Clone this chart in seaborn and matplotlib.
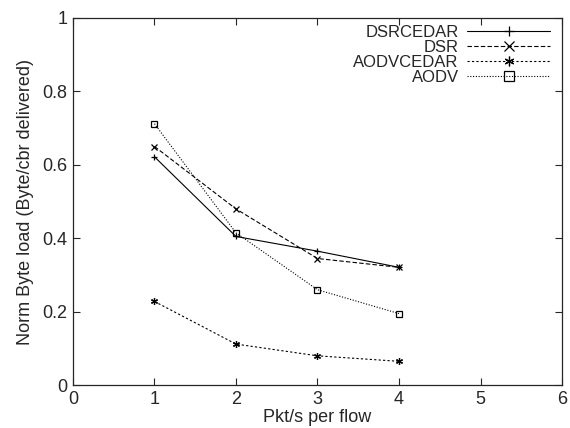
import numpy as np
import pandas as pd
import seaborn as sns
import matplotlib.pyplot as plt

sns.set_style("ticks")
plt.rcParams['font.family'] = ['Liberation Sans', 'DejaVu Sans']
plt.rcParams['xtick.direction'] = 'in'
plt.rcParams['ytick.direction'] = 'in'

pkt_rate = [1, 2, 3, 4]
dsrcedar = [0.622, 0.405, 0.365, 0.321]
dsr = [0.650, 0.480, 0.345, 0.321]
aodvcedar = [0.228, 0.112, 0.080, 0.065]
aodv = [0.712, 0.415, 0.260, 0.195]

series = [
    ("DSRCEDAR", dsrcedar, "+", (None, None)),
    ("DSR", dsr, "x", (4, 2)),
    ("AODVCEDAR", aodvcedar, (6, 2, 0), (2, 2)),
    ("AODV", aodv, "s", (1, 1.5)),
]

fig, ax = plt.subplots(figsize=(5.7, 4.28), dpi=100)
fig.subplots_adjust(left=0.128, right=0.986, top=0.958, bottom=0.100)

for name, vals, mk, dash in series:
    df = pd.DataFrame({"x": pkt_rate, "y": vals})
    sns.lineplot(data=df, x="x", y="y", ax=ax, color="black", lw=0.8,
                 marker=mk, markersize=5, markerfacecolor="none",
                 markeredgecolor="black", markeredgewidth=0.9, label=name)
    l = ax.get_lines()[-1]
    if dash[0] is not None:
        l.set_dashes(dash)

ax.set_xlim(0, 6)
ax.set_ylim(0, 1)
ax.set_xticks(range(7))
ax.set_yticks([0, 0.2, 0.4, 0.6, 0.8, 1])
ax.set_yticklabels(["0", "0.2", "0.4", "0.6", "0.8", "1"])
ax.tick_params(top=True, right=True, labelsize=13, length=5, width=0.8, pad=4)
for s in ax.spines.values():
    s.set_linewidth(0.9)
ax.set_xlabel("Pkt/s per flow", fontsize=13, labelpad=1)
ax.set_ylabel("Norm Byte load (Byte/cbr delivered)", fontsize=13, labelpad=6)

leg = ax.legend(loc="upper right", bbox_to_anchor=(1.0, 1.012), frameon=False,
                markerfirst=False, fontsize=12, handlelength=5.0,
                labelspacing=0.0, handletextpad=0.5, borderaxespad=0.3,
                markerscale=1.4)

fig.savefig("out.png", dpi=100)
